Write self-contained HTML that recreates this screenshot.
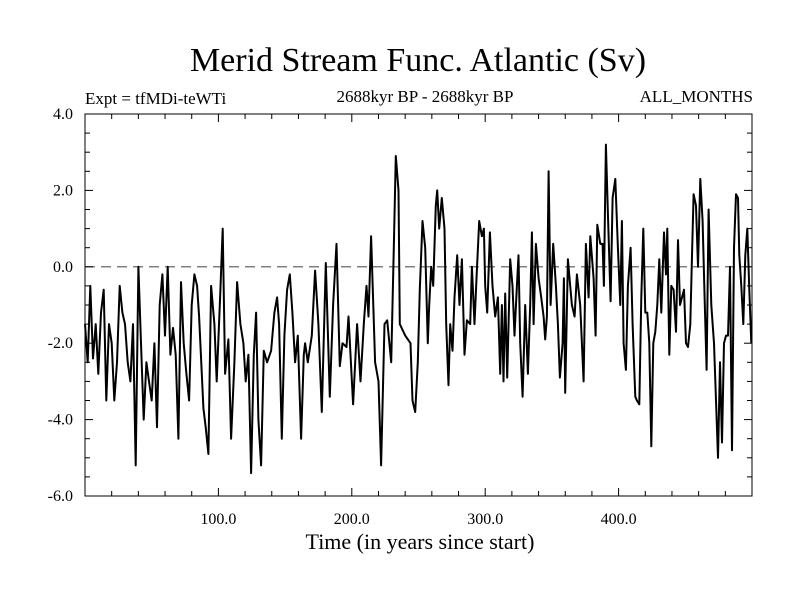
<!DOCTYPE html>
<html><head><meta charset="utf-8"><style>
body{margin:0;background:#fff;}
svg text{font-family:"Liberation Serif",serif;fill:#000;}
</style></head><body>
<svg id="chart" width="800" height="600" xmlns="http://www.w3.org/2000/svg">
<rect width="800" height="600" fill="#fff"/>
<text x="418" y="71" font-size="34" text-anchor="middle">Merid Stream Func. Atlantic (Sv)</text>
<text x="85" y="104" font-size="17">Expt = tfMDi-teWTi</text>
<text x="425" y="102" font-size="17" text-anchor="middle">2688kyr BP - 2688kyr BP</text>
<text x="753" y="102" font-size="17" text-anchor="end">ALL_MONTHS</text>
<text x="420" y="549" font-size="22" text-anchor="middle">Time (in years since start)</text>
<g id="axes"></g>
<g id="series"></g>
</svg>
<script>
const years=[0,2,4,6,8,10,12,14,16,18,20,22,24,26,28,30,32,34,36,38,40,42,44,46,48,50,52,54,56,58,60,62,64,66,68,70,72,74,76,78,80,82,84,
85.5,88.75,90.5,92.5,94.5,97,98.75,101.25,103.25,105,107.5,109.5,112,114,116.5,118.75,120.5,122.5,124.5,126.5,128.25,130,132,134,136.5,139.5,142,144,145.5,147.5,149.5,151.5,153.5,155.5,157.5,159.5,162,164,
165,167,170,172.5,175,177.5,180.5,183.5,186,188.5,191,193,196,197.5,201,204,206.5,209,211,212.5,214.5,217.5,220,222,224.5,226.5,229.5,231.5,233,235,236,240,244,245.5,
247.5,249.5,251,253,255,257,258,259.5,261,263,264,265.5,267.5,269.5,270.75,272.5,273.75,275.5,277,279,280.75,282.5,284.5,286.25,288.75,290,292,293.5,295.5,297.5,299,300,301.5,303.5,305.5,307.5,309.5,311.25,312.5,313.75,315,316.5,318.75,320.5,322,323.75,325,326.25,328,330,
332,333.75,335,336.25,338,340,342,343.75,345,346.25,347.5,349,351,353,354.5,356,358,359,360,362,363.75,365,367,368.75,371.25,373.75,375.5,377.5,378.75,381.25,382.75,384,386.25,388,389,390.5,392,394,395.5,397.5,399.5,401.25,402.5,403.75,405.5,407,409,410.5,412.5,
413.75,415.5,417,418.5,420,421.5,423,424.5,426,427.5,429,430.5,432,434,435.5,436.5,438,439.5,441.25,443,444.5,446,447.5,449,450.5,452,453.75,455,456.25,458,459.5,461.25,463,464.5,466,467.5,469.5,471.5,473,474.5,476,477.5,479,480.5,482,483.5,485,486.5,488,489.5,490.5,492,493.5,495,496.5,498,499.5];
const values=[-1.5,-2.5,-0.5,-2.4,-1.5,-2.8,-1.2,-0.6,-3.5,-1.5,-2.0,-3.5,-2.5,-0.5,-1.2,-1.5,-2.5,-3.0,-1.5,-5.2,0.0,-2.0,-4.0,-2.5,-3.0,-3.5,-2.0,-4.2,-1.0,-0.2,-1.8,0.0,-2.3,-1.6,-2.3,-4.5,-0.4,-2.0,-2.8,-3.5,-1.0,-0.2,-0.5,
-1.3,-3.7,-4.2,-4.9,-0.5,-1.5,-3.0,-0.8,1.0,-2.8,-1.9,-4.5,-2.5,-0.4,-1.5,-2.0,-3.0,-2.3,-5.4,-2.3,-1.2,-4.0,-5.2,-2.2,-2.5,-2.2,-1.2,-0.8,-1.5,-4.5,-1.8,-0.6,-0.2,-1.2,-2.5,-1.8,-4.5,-2.3,
-2.0,-2.5,-1.8,-0.1,-1.5,-3.8,0.1,-3.4,-1.0,0.6,-2.6,-2.0,-2.1,-1.3,-3.6,-1.5,-3.0,-1.5,-0.5,-1.3,0.8,-2.5,-3.0,-5.2,-1.5,-1.4,-2.5,0.5,2.9,2.0,-1.5,-1.8,-2.0,-3.5,
-3.8,-2.5,-0.6,1.2,0.5,-2.0,-1.0,0.0,-0.5,1.6,2.0,1.0,1.8,1.0,-1.5,-3.1,-1.5,-2.2,-0.8,0.3,-1.0,0.2,-2.3,-1.4,-1.5,0.0,-1.5,-0.3,1.2,0.8,1.0,-0.5,-1.2,0.9,-0.5,-1.3,-0.8,-2.8,-1.0,-3.0,-0.7,-2.9,0.2,-0.5,-1.8,-0.5,0.3,-2.0,-3.4,-1.0,
-2.8,-1.0,0.9,-1.5,0.6,-0.3,-0.8,-1.3,-1.9,-1.3,2.5,-1.0,0.6,-0.5,-1.5,-2.9,-2.0,-0.3,-3.3,0.2,-0.5,-1.0,-1.3,-0.2,-1.0,-3.0,0.6,-0.8,0.8,-0.3,-1.8,1.1,0.6,0.6,-0.5,3.2,1.4,-0.9,1.8,2.3,0.5,-1.0,1.2,-2.0,-2.7,-0.5,0.5,-1.5,-3.4,
-3.5,-3.6,-0.8,1.0,-1.2,-1.2,-2.0,-4.7,-2.0,-1.7,-1.0,0.2,-1.2,0.9,-0.2,1.0,-2.3,-0.5,-0.6,-1.7,0.7,-1.0,-0.8,-0.6,-2.0,-2.1,-1.5,0.3,1.9,1.6,0.0,2.3,1.2,-0.8,-2.7,1.5,-1.0,-2.0,-3.5,-5.0,-2.5,-4.6,-2.0,-1.8,-1.8,0.0,-4.8,0.5,1.9,1.8,0.3,-0.5,-1.5,0.3,1.0,-0.6,-2.0];
const yTickLabels=["-6.0","-4.0","-2.0","0.0","2.0","4.0"];
const yTickValues=[-6,-4,-2,0,2,4];
const xTickLabels=["100.0","200.0","300.0","400.0"];
const xTickValues=[100,200,300,400];

const L=85,R=752,T=114,B=496,xMin=0,xMax=500,yMin=-6,yMax=4;
function xs(v){return L+(v-xMin)/(xMax-xMin)*(R-L);}
function ys(v){return B-(v-yMin)/(yMax-yMin)*(B-T);}
const NS="http://www.w3.org/2000/svg";
const axes=document.getElementById('axes'),series=document.getElementById('series');
function mk(tag,attrs,parent){const e=document.createElementNS(NS,tag);for(const k in attrs)e.setAttribute(k,attrs[k]);parent.appendChild(e);return e;}

const z=mk('line',{x1:L,x2:R,y1:ys(0),y2:ys(0),stroke:'#555','stroke-width':1.2,'stroke-dasharray':'10,6'},axes);



const fr=mk('rect',{x:L,y:T,width:R-L,height:B-T,fill:'none',stroke:'#000','stroke-width':1},axes);



for(let v=yMin;v<=yMax+1e-9;v+=0.5){
  const major=Math.abs(v-Math.round(v/2)*2)<1e-9;
  const len=major?8:5;
  const t1=mk('line',{x1:L,x2:L+len,y1:ys(v),y2:ys(v),stroke:'#000'},axes);
  
  
  const t2=mk('line',{x1:R,x2:R-len,y1:ys(v),y2:ys(v),stroke:'#000'},axes);
  
  
}
yTickValues.forEach((v,i)=>{
  const t=mk('text',{x:L-12,y:ys(v)+5,'font-size':16,'text-anchor':'end'},axes);
  t.textContent=yTickLabels[i];
  
  
});
for(let v=20;v<xMax;v+=20){
  const major=v%100===0;
  const len=major?8:5;
  const t1=mk('line',{x1:xs(v),x2:xs(v),y1:B,y2:B-len,stroke:'#000'},axes);
  
  
  const t2=mk('line',{x1:xs(v),x2:xs(v),y1:T,y2:T+len,stroke:'#000'},axes);
  
  
}
xTickValues.forEach((v,i)=>{
  const t=mk('text',{x:xs(v),y:B+28,'font-size':16,'text-anchor':'middle'},axes);
  t.textContent=xTickLabels[i];
  
  
});
let d='';
years.forEach((yr,i)=>{d+=(i?'L':'M')+xs(yr).toFixed(1)+','+ys(values[i]).toFixed(1);});
const p=mk('path',{d:d,fill:'none',stroke:'#000','stroke-width':2,'stroke-linejoin':'round'},series);


</script>
</body></html>
